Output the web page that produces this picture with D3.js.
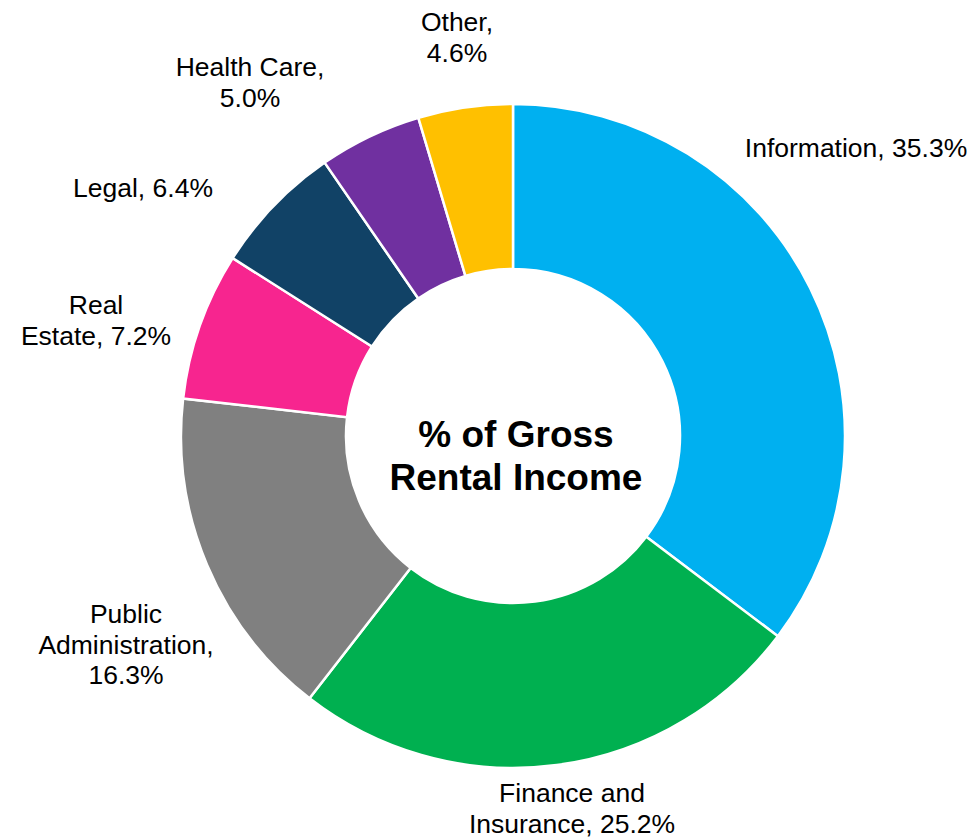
<!DOCTYPE html>
<html>
<head>
<meta charset="utf-8">
<script src="https://cdn.jsdelivr.net/npm/d3@7"></script>
<style>
  html, body { margin: 0; padding: 0; background: #fff; }
  svg { display: block; font-family: "Liberation Sans", Arial, sans-serif; }
</style>
</head>
<body>
<svg id="chart" width="974" height="838"></svg>
<script>
// Tenant industry mix, share of gross rental income (%)
const categories = ["Information", "Finance and Insurance", "Public Administration", "Real Estate", "Legal", "Health Care", "Other"];
const values = [35.3, 25.2, 16.3, 7.2, 6.4, 5.0, 4.6];
// Label text, one entry per line
const labelLines = [
  ["Information, 35.3%"],
  ["Finance and", "Insurance, 25.2%"],
  ["Public", "Administration,", "16.3%"],
  ["Real", "Estate, 7.2%"],
  ["Legal, 6.4%"],
  ["Health Care,", "5.0%"],
  ["Other,", "4.6%"]
];
const colors = ["#00B0F0", "#00B050", "#808080", "#F7258F", "#114266", "#7030A0", "#FFC000"];

// Label placement relative to the ring centre: [dx of text centre, dy of first baseline]
const labelOffsets = [
  [343, -279],
  [59, 366],
  [-387, 187],
  [-417, -122],
  [-370, -239],
  [-263, -360],
  [-56, -405]
];

const width = 974, height = 838;
const cx = 513, cy = 436;
const outerR = 332, innerR = 167;
const lineH = 30.5;

const svg = d3.select("#chart");
const g = svg.append("g").attr("transform", `translate(${cx},${cy})`);

const data = categories.map((c, i) => ({ name: c, value: values[i], i }));

const pie = d3.pie().value(d => d.value).sort(null).startAngle(0).endAngle(2 * Math.PI);
const arc = d3.arc().innerRadius(innerR).outerRadius(outerR);
const color = d3.scaleOrdinal().domain(categories).range(colors);

g.selectAll("path.slice")
  .data(pie(data))
  .join("path")
  .attr("class", "slice")
  .attr("d", arc)
  .attr("fill", d => color(d.data.name))
  .attr("stroke", "#fff")
  .attr("stroke-width", 2.5)
  .attr("stroke-linejoin", "miter");

// Category labels
const labels = g.selectAll("text.label")
  .data(data)
  .join("text")
  .attr("class", "label")
  .attr("text-anchor", "middle")
  .attr("font-size", 26.5)
  .attr("fill", "#000")
  .attr("x", d => labelOffsets[d.i][0])
  .attr("y", d => labelOffsets[d.i][1]);

labels.selectAll("tspan")
  .data(d => labelLines[d.i].map(t => ({ t, x: labelOffsets[d.i][0] })))
  .join("tspan")
  .attr("x", t => t.x)
  .attr("dy", (t, j) => j === 0 ? 0 : lineH)
  .text(t => t.t);

// Centre title
const title = g.append("text")
  .attr("text-anchor", "middle")
  .attr("font-size", 37)
  .attr("font-weight", "bold")
  .attr("fill", "#000");
title.append("tspan").attr("x", 3).attr("y", 11).text("% of Gross");
title.append("tspan").attr("x", 3).attr("y", 54).text("Rental Income");
</script>
</body>
</html>
